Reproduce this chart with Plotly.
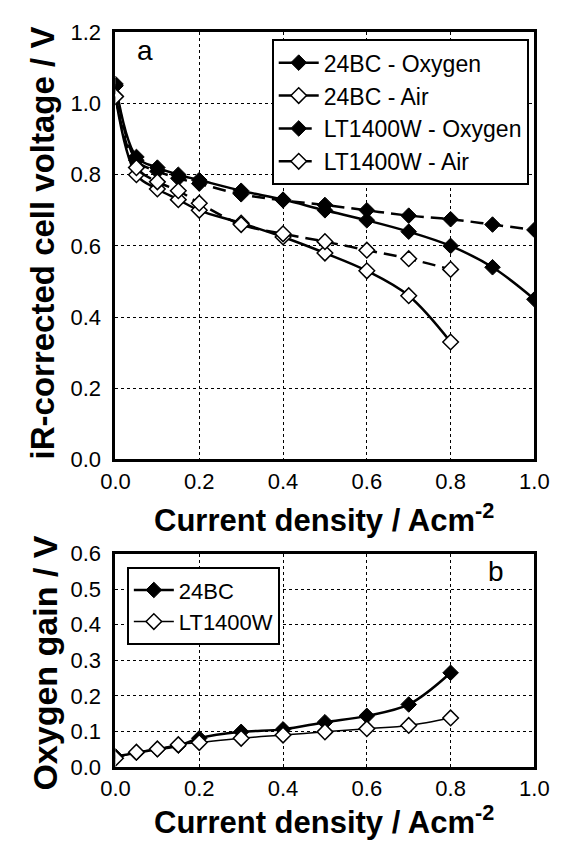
import plotly.graph_objects as go

# current density (A cm-2)
j_top = [0.0, 0.05, 0.1, 0.15, 0.2, 0.3, 0.4, 0.5, 0.6, 0.7, 0.8, 0.9, 1.0]
j_air = [0.0, 0.05, 0.1, 0.15, 0.2, 0.3, 0.4, 0.5, 0.6, 0.7, 0.8]

# panel a: iR-corrected cell voltage (V)
bc24_oxygen = [1.055, 0.85, 0.82, 0.80, 0.785, 0.755, 0.73, 0.70, 0.672, 0.64, 0.60, 0.54, 0.45]
lt1400w_oxygen = [1.05, 0.84, 0.81, 0.79, 0.775, 0.745, 0.728, 0.715, 0.70, 0.685, 0.675, 0.66, 0.645]
bc24_air = [1.02, 0.80, 0.76, 0.73, 0.70, 0.664, 0.625, 0.58, 0.53, 0.46, 0.33]
lt1400w_air = [1.02, 0.82, 0.78, 0.755, 0.72, 0.66, 0.634, 0.612, 0.588, 0.564, 0.534]

# panel b: oxygen gain (V)
j_gain = [0.0, 0.05, 0.1, 0.15, 0.2, 0.3, 0.4, 0.5, 0.6, 0.7, 0.8]
bc24_gain = [0.03, 0.04, 0.05, 0.06, 0.081, 0.099, 0.106, 0.126, 0.144, 0.176, 0.265]
lt1400w_gain = [0.025, 0.042, 0.051, 0.063, 0.069, 0.081, 0.09, 0.099, 0.108, 0.117, 0.138]

W, H = 575, 849
FONT = "Liberation Sans, Arial, sans-serif"


def px(x):
    return x / W


def py(y):
    return 1 - y / H


filled = dict(symbol="diamond", size=12, color="black", line=dict(color="black", width=1))
hollow = dict(symbol="diamond", size=12, color="white", line=dict(color="black", width=1.5))

fig = go.Figure()

# panel a
fig.add_trace(go.Scatter(x=j_top, y=bc24_oxygen, name="24BC - Oxygen", mode="lines+markers",
                         line=dict(color="black", width=2.5, shape="spline"), marker=filled))
fig.add_trace(go.Scatter(x=j_air, y=bc24_air, name="24BC - Air", mode="lines+markers",
                         line=dict(color="black", width=2.5, shape="spline"), marker=hollow))
fig.add_trace(go.Scatter(x=j_top, y=lt1400w_oxygen, name="LT1400W - Oxygen", mode="lines+markers",
                         line=dict(color="black", width=2.5, shape="spline", dash="13px,7px"),
                         marker=filled))
fig.add_trace(go.Scatter(x=j_air, y=lt1400w_air, name="LT1400W - Air", mode="lines+markers",
                         line=dict(color="black", width=2.5, shape="spline", dash="13px,7px"),
                         marker=hollow))

# panel b
fig.add_trace(go.Scatter(x=j_gain, y=bc24_gain, name="24BC", mode="lines+markers",
                         line=dict(color="black", width=2.5, shape="spline"), marker=filled,
                         xaxis="x2", yaxis="y2", legend="legend2"))
fig.add_trace(go.Scatter(x=j_gain, y=lt1400w_gain, name="LT1400W", mode="lines+markers",
                         line=dict(color="black", width=1.5, shape="spline"), marker=hollow,
                         xaxis="x2", yaxis="y2", legend="legend2"))

axis_style = dict(
    showline=True, mirror=True, linecolor="black", linewidth=3,
    showgrid=True, gridcolor="black", gridwidth=1, griddash="dot",
    zeroline=False, ticks="", tickfont=dict(family=FONT, size=22, color="black"),
    tickformat=".1f",
)
x_style = dict(axis_style, ticklabelstandoff=0)
y_style = dict(axis_style, ticklabelstandoff=7)

fig.update_layout(
    width=W, height=H,
    margin=dict(l=0, r=0, t=0, b=0),
    paper_bgcolor="white", plot_bgcolor="white",
    font=dict(family=FONT, color="black"),
    xaxis=dict(domain=[px(106), px(548)], range=[0, 1.0], dtick=0.2, anchor="y", **x_style),
    yaxis=dict(domain=[py(461), py(21)], range=[0, 1.2], dtick=0.2, anchor="x", **y_style),
    xaxis2=dict(domain=[px(106), px(548)], range=[0, 1.0], dtick=0.2, anchor="y2", **x_style),
    yaxis2=dict(domain=[py(778), py(558)], range=[0, 0.6], dtick=0.1, anchor="x2", **y_style),
    legend=dict(x=px(542), y=py(28), xanchor="right", yanchor="top",
                bgcolor="white", bordercolor="black", borderwidth=2,
                font=dict(family=FONT, size=23, color="black"), itemwidth=40),
    legend2=dict(x=px(118), y=py(572), xanchor="left", yanchor="top",
                 bgcolor="white", bordercolor="black", borderwidth=2,
                 font=dict(family=FONT, size=22, color="black"), itemwidth=40),
    showlegend=True,
)

title_font = dict(family=FONT, size=31, color="black")
annotations = [
    dict(text="<b>Current density / Acm<sup>-2</sup></b>", x=px(326), y=py(521), font=title_font),
    dict(text="<b>Current density / Acm<sup>-2</sup></b>", x=px(326), y=py(833), font=title_font),
    dict(text="<b>iR-corrected cell voltage / V</b>", x=px(30), y=py(238), textangle=-90,
         font=dict(title_font, size=33)),
    dict(text="<b>Oxygen gain / V</b>", x=px(32), y=py(671), textangle=-90,
         font=dict(title_font, size=34)),
    dict(text="a", x=px(137), y=py(40), font=dict(family=FONT, size=28, color="black")),
    dict(text="b", x=px(508), y=py(576), font=dict(family=FONT, size=28, color="black")),
]
for a in annotations:
    a.update(xref="paper", yref="paper", showarrow=False, xanchor="center", yanchor="middle")
fig.update_layout(annotations=annotations)

# drop the default page margin so the figure sits at the window's top-left corner
fig.write_html("out.html", config={"displayModeBar": False},
               post_script="document.body.style.margin = '0';")
